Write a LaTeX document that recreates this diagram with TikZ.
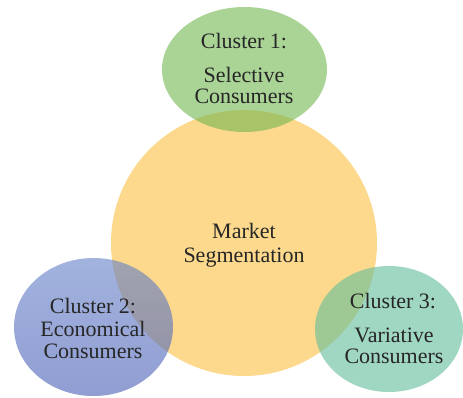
\documentclass[tikz,border=0pt]{standalone}
\usepackage{fontspec}
\setmainfont{Liberation Serif}
\usetikzlibrary{shapes.geometric}
\definecolor{corange}{RGB}{250,192,63}
\definecolor{cgreen}{RGB}{113,183,80}
\definecolor{cbluetop}{RGB}{100,128,200}
\definecolor{cbluebot}{RGB}{70,92,180}
\definecolor{cteal}{RGB}{97,188,155}
\definecolor{ctext}{RGB}{38,38,38}
\tikzset{
  blob/.style={ellipse, inner sep=0pt, fill opacity=0.6, draw=none},
  lbl/.style={anchor=base, inner sep=0pt, text=ctext, font=\fontsize{22}{22}\selectfont}
}
\begin{document}
\begin{tikzpicture}[x=1pt,y=-1pt]
\useasboundingbox (0,0) rectangle (463,397);
\node[blob, fill=corange, minimum width=266pt, minimum height=266pt] (center) at (244,243) {};
\node[blob, fill=cgreen, minimum width=165pt, minimum height=125pt] (top) at (244.5,69.5) {};
\node[blob, top color=cbluetop, bottom color=cbluebot, minimum width=159pt, minimum height=138pt] (left) at (93.5,327) {};
\node[blob, fill=cteal, minimum width=148pt, minimum height=126pt] (right) at (389,329) {};
% texts
\node[lbl] (m1) at (244,238) {Market};
\node[lbl] (m2) at (244,262) {Segmentation};
\node[lbl] (t1) at (244,48) {Cluster 1:};
\node[lbl] (t2) at (244,82) {Selective};
\node[lbl] (t3) at (244,103) {Consumers};
\node[lbl] (l1) at (93,313) {Cluster 2:};
\node[lbl] (l2) at (93,336) {Economical};
\node[lbl] (l3) at (93,358) {Consumers};
\node[lbl] (r1) at (393,308) {Cluster 3:};
\node[lbl] (r2) at (394,342) {Variative};
\node[lbl] (r3) at (394,363) {Consumers};
\end{tikzpicture}
\end{document}
